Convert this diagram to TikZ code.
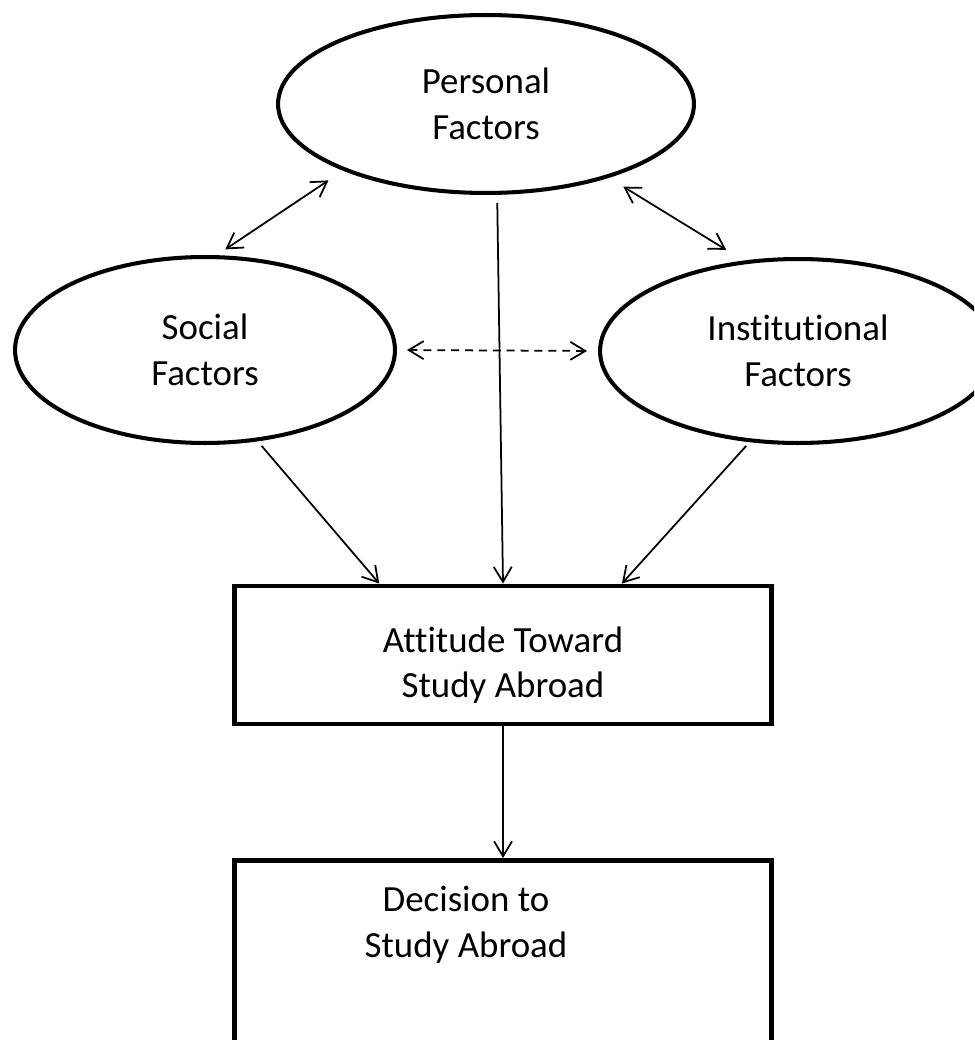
\documentclass[tikz,border=0pt]{standalone}
\usepackage{fontspec}
\setmainfont{Carlito}[Ligatures=NoCommon]
\usepackage{tikz}
\usetikzlibrary{arrows.meta,shapes.geometric,positioning}

\begin{document}
\begin{tikzpicture}[
x=0.02cm, y=-0.02cm,
font=\fontsize{21}{26}\selectfont,
factor/.style={ellipse,draw,line width=2.3pt,inner sep=0pt,align=center},
stage/.style={rectangle,draw,line width=2.8pt,inner sep=0pt,minimum width=10.75cm},
classical/.style={<->,line width=1pt,>={Straight Barb[length=3mm,width=3.6mm]}},
oneway/.style={->,line width=1pt,>={Straight Barb[length=3mm,width=3.6mm]}},
mutual/.style={classical,dash pattern=on 4.5pt off 3.4pt}
]
    % Page
    \useasboundingbox (0,0) rectangle (974,1040);
    \clip (0,0) rectangle (974,1040);

    % Factors
    \node[factor, minimum width=8.32cm, minimum height=3.56cm] (personal) at (486,104) {Personal\\Factors};
    \node[factor, minimum width=7.6cm, minimum height=3.72cm] (social) at (205,350) {Social\\Factors};
    \node[factor, minimum width=7.92cm, minimum height=3.68cm] (institutional) at (798,351) {Institutional\\Factors};

    % Boxes
    \node[stage, minimum height=2.76cm] (attitude) at (503,655) {};
    \node[align=center] (attitudetext) at (503,665) {Attitude Toward\\Study Abroad};
    \node[stage, minimum height=5cm, anchor=north] (decision) at (503,858) {};
    \node[align=center] (decisiontext) at (466,925) {Decision to\\Study Abroad};

    % Links between factors
    \draw[classical, shorten <=0.21cm, shorten >=0.35cm] (social.83.5) -- (personal.205.5);
    \draw[classical, shorten <=0.34cm, shorten >=0.41cm] (personal.-31.4) -- (institutional.121);
    \draw[mutual, shorten <=0.2cm, shorten >=0.22cm] (social.east) -- (institutional.west);

    % Influences
    \draw[oneway, shorten <=0.16cm] (personal.-83) -- (attitude.north);
    \draw[oneway, shorten <=0.12cm] (social.-60.4) -- (attitude.150);
    \draw[oneway, shorten <=0.1cm] (institutional.242.5) -- (attitude.31);
    \draw[oneway] (attitude.south) -- (decision.north);

\end{tikzpicture}
\end{document}
